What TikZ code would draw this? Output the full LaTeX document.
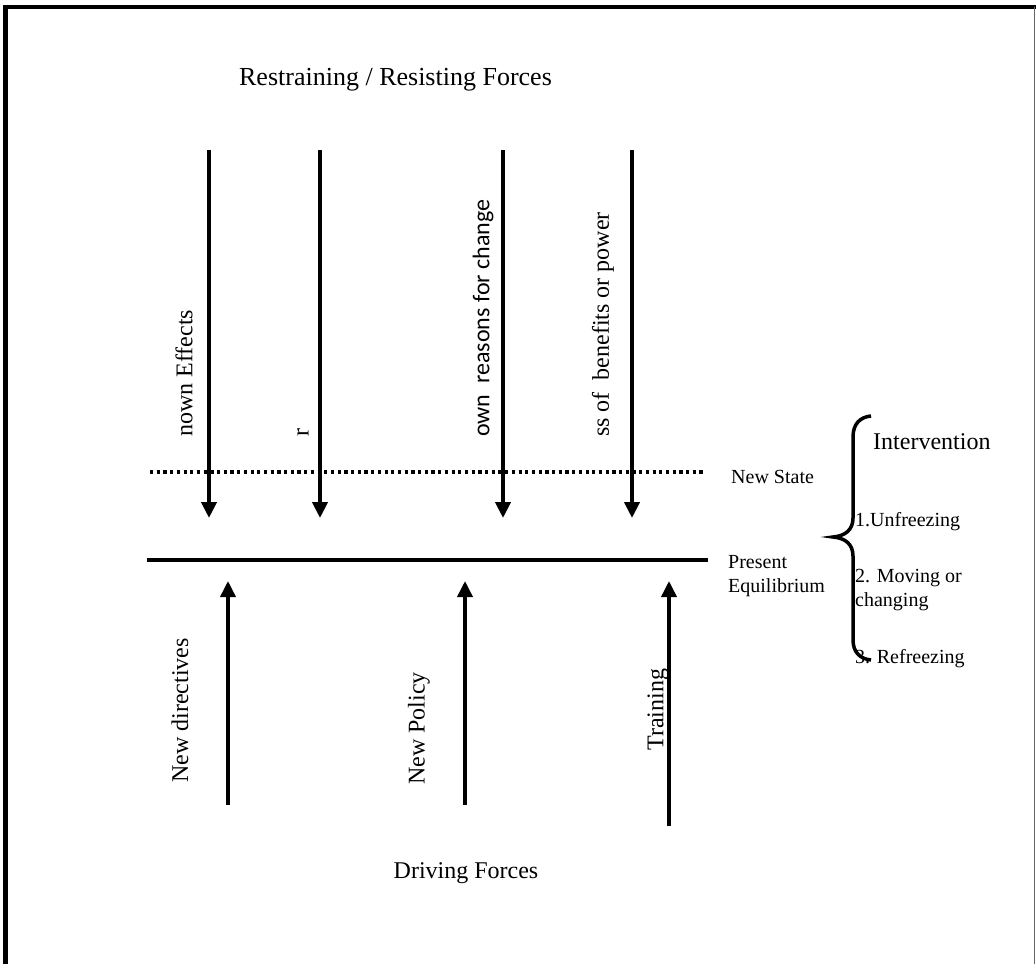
\documentclass[tikz,border=0pt]{standalone}
\usepackage{fontspec}
\setmainfont{Liberation Serif}
\newfontfamily\sanslabel{Carlito}
\usetikzlibrary{arrows.meta}

\begin{document}
\begin{tikzpicture}[x=1pt,y=-1pt,
  lbl/.style={inner sep=0pt, font=\fontsize{24}{28}\selectfont},
  small/.style={inner sep=0pt, align=left, anchor=west, font=\fontsize{20}{24}\selectfont},
  vlbl/.style={lbl, rotate=90},
  force/.style={line width=4pt, -{Triangle[length=16pt,width=15pt]}},
  drive/.style={line width=3.6pt, -{Triangle[length=16pt,width=15pt]}},
  frame/.style={line width=4.5pt},
]
\useasboundingbox (0,0) rectangle (1036,964);

% page frame
\draw[frame] (5.5,964) -- (5.5,7) -- (1036,7);
\draw[line width=0.9pt, black!60] (1034,7) -- (1034,964);

% headings
\node[lbl, font=\fontsize{26}{30}\selectfont] (title) at (395.5,80) {Restraining / Resisting Forces};
\node[lbl] (driving) at (466,873) {Driving Forces};

% new state (dotted) and present equilibrium (solid)
\coordinate (ns1) at (150,472);
\coordinate (ns2) at (705,472);
\coordinate (pe1) at (147,560);
\coordinate (pe2) at (708,560);
\draw[line width=3.2pt, dash pattern=on 3.2pt off 3.5pt] (ns1) -- (ns2);
\draw[line width=4pt] (pe1) -- (pe2);

% restraining forces
\foreach \i/\x in {1/209,2/320,3/503,4/632}{
  \coordinate (r\i a) at (\x,150);
  \coordinate (r\i b) at (\x,518);
  \draw[force] (r\i a) -- (r\i b);
}

% driving forces
\coordinate (d1a) at (228,805);
\coordinate (d1b) at (228,581);
\coordinate (d2a) at (465,805);
\coordinate (d2b) at (465,581);
\coordinate (d3a) at (669,826);
\coordinate (d3b) at (669,581);
\draw[drive] (d1a) -- (d1b);
\draw[drive] (d2a) -- (d2b);
\draw[drive] (d3a) -- (d3b);

% labels of the restraining forces
\node[vlbl, anchor=west] (rl1) at (184,437) {nown Effects};
\node[vlbl, anchor=west] (rl2) at (303,437) {r};
\node[vlbl, anchor=west, font=\sanslabel\fontsize{24}{28}\selectfont] (rl3) at (483,437) {own\ \ reasons for change};
\node[vlbl, anchor=west] (rl4) at (603,437) {ss of\ \ benefits or power};

% labels of the driving forces
\node[vlbl, anchor=west] (dl1) at (180,783) {New directives};
\node[vlbl, anchor=west] (dl2) at (419,785) {New Policy};
\node[vlbl, anchor=west] (dl3) at (658,751) {Training};

% state labels
\node[small] (newstate) at (731,477) {New State};
\node[small] (present) at (728,576) {Present\\Equilibrium};

% intervention brace and stages
\coordinate (bt) at (871,416);
\coordinate (bm) at (833,537);
\coordinate (bb) at (871,660);
\draw[line width=3.5pt] (bt) .. controls (860,417) and (853,424) .. (853,437)
  -- (853,518) .. controls (853,530) and (845,536) .. (bm)
  .. controls (845,538) and (853,544) .. (853,556)
  -- (853,640) .. controls (853,652) and (860,659) .. (bb);
\node[lbl, anchor=west] (interv) at (873,442) {Intervention};
\node[small] (s1) at (855,522) {1.Unfreezing};
\node[small] (s2) at (855,590) {2. Moving or\\changing};
\node[small] (s3) at (855,659) {3. Refreezing};
\end{tikzpicture}
\end{document}
